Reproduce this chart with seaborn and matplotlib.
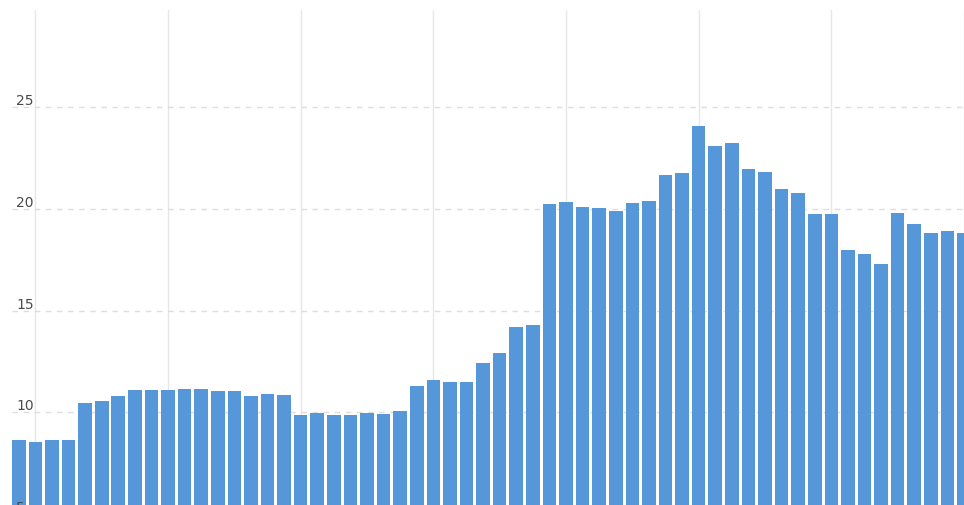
import matplotlib
matplotlib.use("Agg")
import matplotlib.pyplot as plt
import matplotlib.transforms as mtransforms
import seaborn as sns
import pandas as pd

values = [8.64, 8.55, 8.64, 8.64, 10.46, 10.54, 10.79, 11.1, 11.1, 11.1,
          11.15, 11.15, 11.06, 11.06, 10.82, 10.92, 10.85, 9.88, 9.96, 9.87,
          9.87, 9.95, 9.92, 10.06, 11.28, 11.6, 11.5, 11.5, 12.42, 12.93,
          14.2, 14.29, 20.25, 20.35, 20.1, 20.03, 19.89, 20.31, 20.4, 21.69,
          21.77, 24.1, 23.11, 23.26, 21.97, 21.84, 20.98, 20.79, 19.74, 19.74,
          18.0, 17.77, 17.31, 19.79, 19.26, 18.8, 18.92, 18.82]
periods = list(range(len(values)))
y_ticks = [5, 10, 15, 20, 25]
x_grid = [1, 9, 17, 25, 33, 41, 49, 57]

df = pd.DataFrame({"period": periods, "value": values})

sns.set_theme(style="white")
fig = plt.figure(figsize=(9.64, 5.06), dpi=100)
ax = fig.add_axes([12 / 964, -9 / 506, 1 - 12 / 964, 504 / 506])

sns.barplot(data=df, x="period", y="value", color="#5597d8", saturation=1,
            width=0.82, ax=ax, zorder=3, linewidth=0)

ax.set_xlim(-0.41, 56.86)
ax.set_ylim(5, 29.79)

ax.set_xticks(x_grid)
ax.set_xticklabels([])
ax.set_yticks(y_ticks)
ax.set_yticklabels([])
ax.tick_params(axis="both", length=0)

trans = mtransforms.blended_transform_factory(ax.transAxes, ax.transData)
offset = mtransforms.ScaledTranslation(4 / 100, 0, fig.dpi_scale_trans)
for t in y_ticks:
    ax.text(0, t, str(t), transform=trans + offset, ha="left", va="bottom",
            fontsize=10, color="#4a4a4a", zorder=5)

ax.xaxis.grid(True, color="#e6e6e6", linewidth=1, linestyle="-", zorder=0)
ax.yaxis.grid(True, color="#dddddd", linewidth=1, linestyle=(0, (4, 4)), zorder=0)
ax.set_axisbelow(True)
for s in ax.spines.values():
    s.set_visible(False)
ax.set_xlabel("")
ax.set_ylabel("")

fig.savefig("out.png", dpi=100)
